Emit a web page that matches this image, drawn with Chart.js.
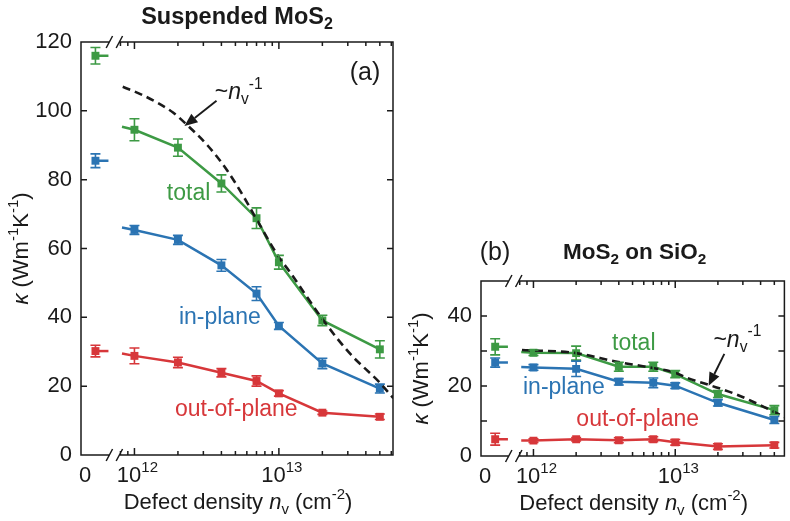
<!DOCTYPE html>
<html>
<head>
<meta charset="utf-8">
<title>MoS2 thermal conductivity vs defect density</title>
<script src="https://cdn.jsdelivr.net/npm/chart.js@4.4.1/dist/chart.umd.min.js"></script>
<style>
  html, body { margin: 0; padding: 0; background: #fff; }
  body { position: relative; width: 790px; height: 521px; overflow: hidden; }
  .panel { position: absolute; top: 0; height: 521px; }
  #panelA { left: 0; width: 400px; }
  #panelB { left: 400px; width: 390px; }
</style>
</head>
<body>
<div class="panel" id="panelA"><canvas id="chartA"></canvas></div>
<div class="panel" id="panelB"><canvas id="chartB"></canvas></div>
<script>
// ------------------------------
// DATA
// ------------------------------

// measured defect densities, cm^-2 (the pristine n = 0 sample sits left of the axis break)
const densities = [1e12, 2e12, 4e12, 7e12, 1e13, 2e13, 5e13];
// density where the joined curves come out of the axis break
const leadInDensity = 8.2e11;

// (a) suspended MoS2, kappa in W m^-1 K^-1
const suspTotal = [94.5, 89.3, 78.9, 68.8, 56.0, 39.1, 30.7];
const suspTotalErr = [3.2, 2.5, 2.5, 3.0, 2.0, 1.5, 2.5];
const suspInPlane = [65.4, 62.5, 55.1, 46.9, 37.5, 26.6, 19.3];
const suspInPlaneErr = [1.3, 1.3, 1.7, 2.0, 1.0, 1.5, 1.3];
const suspOutPlane = [28.8, 26.9, 23.9, 21.5, 17.9, 12.3, 11.1];
const suspOutPlaneErr = [2.3, 1.5, 1.2, 1.5, 0.8, 0.5, 0.8];
// pristine: total, in-plane, out-of-plane
const suspPristine = [116.0, 85.5, 30.2];
const suspPristineErr = [2.4, 2.0, 1.7];
// curve heights where they leave the break
const suspLeadIn = [95.4, 66.1, 29.5];
// ~1/n guide
const suspGuideN = [8.3e11, 1.15e12, 1.85e12, 2.3e12, 3.2e12, 4.4e12, 6e12, 7e12, 1e13, 1.2e13, 2e13, 3.1e13, 5e13, 6.2e13];
const suspGuideK = [107, 104.5, 99.5, 96, 90, 82.6, 73.5, 68.5, 57.5, 53, 39.5, 29.5, 21, 16.5];

// (b) MoS2 on SiO2
const subTotal = [29.5, 29.4, 25.5, 25.5, 23.4, 17.7, 13.1];
const subTotalErr = [0.8, 2.0, 1.3, 1.3, 1.0, 1.0, 1.3];
const subInPlane = [25.3, 24.9, 21.2, 20.9, 20.1, 15.2, 10.3];
const subInPlaneErr = [0.8, 2.2, 0.9, 1.4, 0.8, 0.9, 1.0];
const subOutPlane = [4.4, 4.8, 4.5, 4.8, 3.9, 2.7, 3.1];
const subOutPlaneErr = [0.5, 0.5, 0.7, 0.7, 0.8, 0.8, 0.8];
const subPristine = [31.2, 26.7, 4.8];
const subPristineErr = [2.3, 1.3, 1.7];
const subLeadIn = [29.7, 25.4, 4.4];
const subGuideN = [8.3e11, 2e12, 3.8e12, 6.4e12, 1e13, 1.2e13, 1.7e13, 2.7e13, 4.6e13, 6e13];
const subGuideK = [30.3, 29.4, 27.0, 25.4, 23.8, 22.4, 20.4, 17.6, 13.3, 11.0];

// tick values
const suspKappaTicks = [0, 20, 40, 60, 80, 100, 120];
const subKappaTicks = [0, 10, 20, 30, 40, 50];
const subKappaLabels = [0, 20, 40];
const decadeExponents = [12, 13];

// ------------------------------
// AXIS / STYLE
// ------------------------------
// horizontal axis is log10(n); n = 0 is drawn at PRISTINE_AT, left of the break
const X_MIN = 11.63;
const PRISTINE_AT = 11.73;
const STUB_END = 11.82;
const BREAK_AT = 11.861;

const FONT = '"Liberation Sans", Arial, Helvetica, sans-serif';
const INK = '#1a1a1a';
const GREEN = '#3d9a44';
const BLUE = '#2b74b3';
const RED = '#d7373a';
const MARK = 5.6;

// ------------------------------
// RICH TEXT (sub / superscripts)
// ------------------------------
function partFont(p, size) {
  const sz = p.s ? size * 0.68 : size;
  return (p.i ? 'italic ' : '') + (p.b ? 'bold ' : '') + sz.toFixed(1) + 'px ' + FONT;
}

function drawRich(ctx, parts, x, y, size, align) {
  let w = 0;
  parts.forEach(p => { ctx.font = partFont(p, size); w += ctx.measureText(p.t).width; });
  let cx = align === 'center' ? x - w / 2 : align === 'right' ? x - w : x;
  ctx.textAlign = 'left';
  ctx.textBaseline = 'middle';
  parts.forEach(p => {
    ctx.font = partFont(p, size);
    const dy = p.s === 'sup' ? -size * 0.38 : p.s === 'sub' ? size * 0.3 : 0;
    ctx.fillText(p.t, cx, y + dy);
    cx += ctx.measureText(p.t).width;
  });
}

const guideText = [{ t: '~' }, { t: 'n', i: 1 }, { t: 'v', s: 'sub' }, { t: '-1', s: 'sup' }];
const xTitle = [{ t: 'Defect density ' }, { t: 'n', i: 1 }, { t: 'v', s: 'sub' }, { t: ' (cm' }, { t: '-2', s: 'sup' }, { t: ')' }];
const yTitle = [{ t: 'κ', i: 1 }, { t: ' (Wm' }, { t: '-1', s: 'sup' }, { t: 'K' }, { t: '-1', s: 'sup' }, { t: ')' }];

// ------------------------------
// ERROR BARS
// ------------------------------
const errorBars = {
  id: 'errorBars',
  afterDatasetsDraw(chart) {
    const ctx = chart.ctx, ys = chart.scales.y;
    chart.data.datasets.forEach((ds, di) => {
      if (!ds.errors) return;
      const meta = chart.getDatasetMeta(di);
      ctx.save();
      ctx.strokeStyle = ds.borderColor;
      ctx.lineWidth = 1.6;
      meta.data.forEach((pt, i) => {
        const e = ds.errors[i];
        if (e == null) return;
        const v = ds.data[i].y;
        const top = ys.getPixelForValue(v + e), bot = ys.getPixelForValue(v - e);
        ctx.beginPath();
        ctx.moveTo(pt.x, top); ctx.lineTo(pt.x, bot);
        ctx.moveTo(pt.x - 5, top); ctx.lineTo(pt.x + 5, top);
        ctx.moveTo(pt.x - 5, bot); ctx.lineTo(pt.x + 5, bot);
        ctx.stroke();
      });
      ctx.restore();
    });
  }
};

// ------------------------------
// FRAME, TICKS, LABELS
// ------------------------------
function makeFrame(p) {
  return {
    id: 'frame',
    afterDraw(chart) {
      const ctx = chart.ctx, a = chart.chartArea;
      const xs = chart.scales.x, ys = chart.scales.y;
      const px = n => xs.getPixelForValue(Math.log10(n));
      ctx.save();
      ctx.strokeStyle = INK;
      ctx.fillStyle = INK;
      ctx.lineWidth = 1.5;

      // box with broken horizontal axes
      const bx = xs.getPixelForValue(BREAK_AT);
      ctx.beginPath();
      ctx.moveTo(a.left, a.top - 0.75); ctx.lineTo(a.left, a.bottom + 0.75);
      ctx.moveTo(a.right, a.top - 0.75); ctx.lineTo(a.right, a.bottom + 0.75);
      [a.top, a.bottom].forEach(y => {
        ctx.moveTo(a.left, y); ctx.lineTo(bx - 5, y);
        ctx.moveTo(bx + 5, y); ctx.lineTo(a.right, y);
        [bx - 5, bx + 5].forEach(sx => { ctx.moveTo(sx - 3.2, y + 6); ctx.lineTo(sx + 3.2, y - 6); });
      });

      // inward kappa ticks, both sides
      p.kTicks.forEach(k => {
        if (k <= ys.min || k >= ys.max) return;
        const y = ys.getPixelForValue(k);
        ctx.moveTo(a.left, y); ctx.lineTo(a.left + 6, y);
        ctx.moveTo(a.right, y); ctx.lineTo(a.right - 6, y);
      });

      // inward log ticks, top and bottom
      [11, 12, 13].forEach(e => {
        for (let m = 1; m <= 9; m++) {
          const v = e + Math.log10(m);
          if (v < BREAK_AT + 0.03 || v >= xs.max) continue;
          const x = xs.getPixelForValue(v), len = m === 1 ? 7 : 4;
          ctx.moveTo(x, a.bottom); ctx.lineTo(x, a.bottom - len);
          ctx.moveTo(x, a.top); ctx.lineTo(x, a.top + len);
        }
      });
      ctx.stroke();

      // tick labels
      p.kLabels.forEach(k => drawRich(ctx, [{ t: String(k) }], a.left - 9, ys.getPixelForValue(k), 22, 'right'));
      drawRich(ctx, [{ t: '0' }], a.left + 4, a.bottom + 21, 22, 'center');
      decadeExponents.forEach(e => {
        drawRich(ctx, [{ t: '10' }, { t: String(e), s: 'sup' }], xs.getPixelForValue(e) + 3, a.bottom + 21, 22, 'center');
      });

      // axis titles
      drawRich(ctx, xTitle, (a.left + a.right) / 2 + 1, a.bottom + 48, 22, 'center');
      ctx.save();
      ctx.translate(a.left - 59, (a.top + a.bottom) / 2);
      ctx.rotate(-Math.PI / 2);
      drawRich(ctx, yTitle, 0, 0, 22, 'center');
      ctx.restore();

      // panel title
      drawRich(ctx, p.title, (a.left + a.right) / 2 + p.titleDx, a.top + p.titleDy, p.titleSize, 'center');
      if (p.tagOutside) drawRich(ctx, [{ t: p.tagOutside }], a.left + 14, a.top + p.titleDy, 25, 'center');

      // in-plot notes
      p.notes.forEach(nt => {
        ctx.fillStyle = nt.color || INK;
        drawRich(ctx, nt.parts, px(nt.n), ys.getPixelForValue(nt.k), nt.size || 23, nt.align || 'center');
      });

      // arrow to the guide
      const x0 = px(p.arrow[0][0]), y0 = ys.getPixelForValue(p.arrow[0][1]);
      const x1 = px(p.arrow[1][0]), y1 = ys.getPixelForValue(p.arrow[1][1]);
      const ang = Math.atan2(y1 - y0, x1 - x0), hl = 13, hw = 5.5;
      const bxh = x1 - hl * Math.cos(ang), byh = y1 - hl * Math.sin(ang);
      ctx.strokeStyle = INK; ctx.fillStyle = INK; ctx.lineWidth = 1.9;
      ctx.beginPath(); ctx.moveTo(x0, y0); ctx.lineTo(bxh, byh); ctx.stroke();
      ctx.beginPath();
      ctx.moveTo(x1, y1);
      ctx.lineTo(bxh + hw * Math.sin(ang), byh - hw * Math.cos(ang));
      ctx.lineTo(bxh - hw * Math.sin(ang), byh + hw * Math.cos(ang));
      ctx.closePath(); ctx.fill();

      ctx.restore();
    }
  };
}

// ------------------------------
// BUILD ONE PANEL
// ------------------------------
function buildPanel(p) {
  const datasets = [{
    data: p.guideN.map((n, i) => ({ x: Math.log10(n), y: p.guideK[i] })),
    borderColor: INK, borderWidth: 2.6, borderDash: [8, 5],
    pointRadius: 0, cubicInterpolationMode: 'monotone', fill: false
  }];

  p.series.forEach((s, j) => {
    datasets.push({
      data: [{ x: Math.log10(leadInDensity), y: p.leadIn[j] }]
        .concat(densities.map((n, i) => ({ x: Math.log10(n), y: s.vals[i] }))),
      errors: [null].concat(s.errs),
      borderColor: s.color, backgroundColor: s.color, borderWidth: 2.5,
      pointStyle: 'rect', pointRadius: ctx => (ctx.dataIndex === 0 ? 0 : MARK),
      pointBorderWidth: 0, tension: 0, fill: false
    });
    // pristine point with its short stub toward the break
    datasets.push({
      data: [{ x: PRISTINE_AT, y: p.pristine[j] }, { x: STUB_END, y: p.pristine[j] }],
      errors: [p.pristineErr[j], null],
      borderColor: s.color, backgroundColor: s.color, borderWidth: 2.5,
      pointStyle: 'rect', pointRadius: ctx => (ctx.dataIndex === 0 ? MARK : 0),
      pointBorderWidth: 0, fill: false
    });
  });

  return new Chart(document.getElementById(p.canvas), {
    type: 'line',
    data: { datasets },
    options: {
      responsive: true,
      maintainAspectRatio: false,
      animation: false,
      events: [],
      layout: { padding: p.pad },
      plugins: { legend: { display: false }, tooltip: { enabled: false } },
      scales: {
        x: { type: 'linear', display: false, min: X_MIN, max: p.xMax },
        y: { type: 'linear', display: false, min: 0, max: p.kMax }
      }
    },
    plugins: [errorBars, makeFrame(p)]
  });
}

buildPanel({
  canvas: 'chartA',
  pad: { left: 81, right: 7, top: 42, bottom: 66 },
  xMax: 13.79, kMax: 120,
  kTicks: suspKappaTicks, kLabels: suspKappaTicks,
  series: [
    { vals: suspTotal, errs: suspTotalErr, color: GREEN },
    { vals: suspInPlane, errs: suspInPlaneErr, color: BLUE },
    { vals: suspOutPlane, errs: suspOutPlaneErr, color: RED }
  ],
  pristine: suspPristine, pristineErr: suspPristineErr, leadIn: suspLeadIn,
  guideN: suspGuideN, guideK: suspGuideK,
  title: [{ t: 'Suspended MoS', b: 1 }, { t: '2', b: 1, s: 'sub' }],
  titleDx: 0, titleDy: -24, titleSize: 23.5,
  notes: [
    { parts: [{ t: 'total' }], n: 2.37e12, k: 75.9, color: GREEN },
    { parts: [{ t: 'in-plane' }], n: 3.9e12, k: 40, color: BLUE },
    { parts: [{ t: 'out-of-plane' }], n: 5.07e12, k: 13.3, color: RED },
    { parts: [{ t: '(a)' }], n: 3.95e13, k: 111, size: 25 },
    { parts: guideText, n: 3.6e12, k: 105.2, align: 'left' }
  ],
  arrow: [[3.7e12, 102.9], [2.22e12, 95.6]]
});

buildPanel({
  canvas: 'chartB',
  pad: { left: 81, right: 1, top: 281, bottom: 65 },
  xMax: 13.77, kMax: 50,
  kTicks: subKappaTicks, kLabels: subKappaLabels,
  series: [
    { vals: subTotal, errs: subTotalErr, color: GREEN },
    { vals: subInPlane, errs: subInPlaneErr, color: BLUE },
    { vals: subOutPlane, errs: subOutPlaneErr, color: RED }
  ],
  pristine: subPristine, pristineErr: subPristineErr, leadIn: subLeadIn,
  guideN: subGuideN, guideK: subGuideK,
  title: [{ t: 'MoS', b: 1 }, { t: '2', b: 1, s: 'sub' }, { t: ' on SiO', b: 1 }, { t: '2', b: 1, s: 'sub' }],
  titleDx: 2, titleDy: -28, titleSize: 22.5, tagOutside: '(b)',
  notes: [
    { parts: [{ t: 'total' }], n: 5.1e12, k: 32.1, color: GREEN },
    { parts: [{ t: 'in-plane' }], n: 1.64e12, k: 19.6, color: BLUE },
    { parts: [{ t: 'out-of-plane' }], n: 5.44e12, k: 10.5, color: RED },
    { parts: guideText, n: 1.86e13, k: 32.9, align: 'left' }
  ],
  arrow: [[2.22e13, 29.2], [1.72e13, 20.1]]
});
</script>
</body>
</html>
